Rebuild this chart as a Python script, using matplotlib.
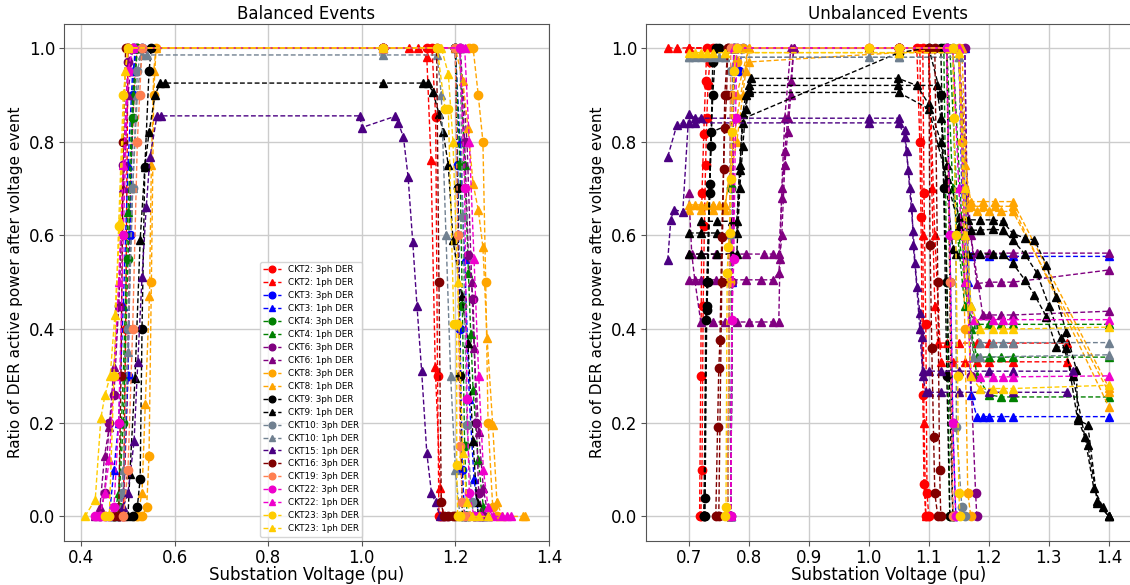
import matplotlib
matplotlib.use("Agg")
import matplotlib.pyplot as plt

# ---------------- series definitions ----------------
labels = ["CKT2: 3ph DER", "CKT2: 1ph DER", "CKT3: 3ph DER", "CKT3: 1ph DER",
          "CKT4: 3ph DER", "CKT4: 1ph DER", "CKT6: 3ph DER", "CKT6: 1ph DER",
          "CKT8: 3ph DER", "CKT8: 1ph DER", "CKT9: 3ph DER", "CKT9: 1ph DER",
          "CKT10: 3ph DER", "CKT10: 1ph DER", "CKT15: 1ph DER", "CKT16: 3ph DER",
          "CKT19: 3ph DER", "CKT22: 3ph DER", "CKT22: 1ph DER", "CKT23: 3ph DER",
          "CKT23: 1ph DER"]
colors = ["#ff0000", "#ff0000", "#0000ff", "#0000ff", "#008000", "#008000",
          "#800080", "#800080", "#ffa500", "#ffa500", "#000000", "#000000",
          "#708090", "#708090", "#4b0082", "#800000", "#ff7f50", "#ee00cc",
          "#ee00cc", "#ffcc00", "#ffcc00"]
markers = ["o", "^", "o", "^", "o", "^", "o", "^", "o", "^", "o", "^",
           "o", "^", "^", "o", "o", "o", "^", "o", "^"]

# ---------------- Balanced events: (voltage, ratio) ----------------
bal_ckt2_3ph = [(0.48, 0), (0.49, 0), (0.495, 0.4), (0.50, 1.0), (0.51, 1.0), (0.52, 1.0),
                (1.045, 1.0), (1.14, 1.0), (1.15, 1.0), (1.158, 0.853), (1.162, 0.3),
                (1.165, 0), (1.17, 0)]
bal_ckt2_1ph = [(0.49, 0), (0.50, 0.3), (0.505, 0.7), (0.515, 0.95), (0.52, 1.0), (0.53, 1.0),
                (1.045, 1.0), (1.10, 1.0), (1.12, 1.0), (1.139, 0.98), (1.148, 0.76),
                (1.157, 0.32), (1.168, 0.06), (1.175, 0)]
bal_ckt3_3ph = [(0.48, 0), (0.49, 0.05), (0.50, 0.3), (0.505, 0.6), (0.51, 0.9), (0.515, 1.0),
                (0.53, 1.0), (1.045, 1.0), (1.20, 1.0), (1.205, 0.75), (1.21, 0.4),
                (1.215, 0.1), (1.22, 0), (1.23, 0)]
bal_ckt3_1ph = [(0.46, 0), (0.47, 0.1), (0.48, 0.2), (0.49, 0.45), (0.50, 0.75), (0.51, 0.95),
                (0.52, 1.0), (1.045, 1.0), (1.20, 1.0), (1.21, 0.8), (1.22, 0.55),
                (1.23, 0.25), (1.24, 0.08), (1.25, 0), (1.26, 0)]
bal_ckt4_3ph = [(0.47, 0), (0.48, 0.02), (0.49, 0.2), (0.50, 0.55), (0.51, 0.85), (0.52, 1.0),
                (1.045, 1.0), (1.20, 1.0), (1.21, 0.75), (1.215, 0.45), (1.22, 0.15),
                (1.225, 0), (1.24, 0)]
bal_ckt4_1ph = [(0.47, 0), (0.48, 0.05), (0.49, 0.3), (0.50, 0.65), (0.51, 0.9), (0.52, 1.0),
                (1.045, 1.0), (1.21, 1.0), (1.22, 0.75), (1.228, 0.52), (1.233, 0.39),
                (1.238, 0.27), (1.249, 0.12), (1.26, 0.02), (1.27, 0)]
bal_ckt6_3ph = [(0.44, 0), (0.45, 0.05), (0.46, 0.2), (0.47, 0.26), (0.48, 0.45), (0.49, 0.75),
                (0.50, 0.97), (0.51, 1.0), (1.045, 1.0), (1.21, 1.0), (1.22, 0.8),
                (1.228, 0.557), (1.238, 0.465), (1.245, 0.2), (1.25, 0.05), (1.26, 0)]
bal_ckt6_1ph = [(0.43, 0), (0.44, 0.02), (0.45, 0.13), (0.46, 0.19), (0.47, 0.32), (0.48, 0.45),
                (0.49, 0.7), (0.50, 0.9), (0.51, 1.0), (1.045, 1.0), (1.21, 1.0),
                (1.225, 0.8), (1.235, 0.5), (1.24, 0.36), (1.25, 0.18), (1.26, 0.06), (1.27, 0)]
bal_ckt8_3ph = [(0.52, 0), (0.53, 0), (0.54, 0.02), (0.545, 0.13), (0.55, 0.5), (0.555, 0.9),
                (0.56, 1.0), (1.045, 1.0), (1.23, 1.0), (1.238, 1.0), (1.249, 0.90),
                (1.259, 0.80), (1.265, 0.5), (1.27, 0.2), (1.28, 0.02), (1.29, 0)]
bal_ckt8_1ph = [(0.52, 0), (0.53, 0.05), (0.537, 0.24), (0.546, 0.47), (0.55, 0.75),
                (0.555, 0.95), (0.56, 1.0), (1.045, 1.0), (1.20, 1.0), (1.216, 0.93),
                (1.227, 0.83), (1.238, 0.71), (1.249, 0.655), (1.259, 0.575), (1.268, 0.38),
                (1.28, 0.195), (1.289, 0.03), (1.30, 0), (1.345, 0), (1.35, 0)]
bal_ckt9_3ph = [(0.51, 0), (0.52, 0.02), (0.526, 0.08), (0.53, 0.4), (0.536, 0.745),
                (0.545, 0.95), (0.55, 1.0), (1.045, 1.0), (1.20, 1.0), (1.205, 0.7),
                (1.21, 0.3), (1.215, 0), (1.22, 0)]
bal_ckt9_1ph = [(0.50, 0), (0.504, 0.09), (0.515, 0.295), (0.526, 0.59), (0.536, 0.745),
                (0.545, 0.82), (0.558, 0.90), (0.569, 0.925), (0.58, 0.925), (1.045, 0.925),
                (1.131, 0.925), (1.141, 0.925), (1.152, 0.906), (1.165, 0.86), (1.174, 0.82),
                (1.185, 0.75), (1.195, 0.59), (1.214, 0.47), (1.227, 0.37), (1.238, 0.16),
                (1.246, 0.03), (1.25, 0)]
bal_ckt10_3ph = [(0.48, 0), (0.49, 0.05), (0.50, 0.4), (0.51, 0.7), (0.52, 0.95), (0.53, 1.0),
                 (1.045, 1.0), (1.21, 1.0), (1.216, 0.64), (1.225, 0.195), (1.235, 0.03),
                 (1.24, 0)]
bal_ckt10_1ph = [(0.48, 0), (0.49, 0.1), (0.50, 0.35), (0.51, 0.7), (0.52, 0.9), (0.53, 0.985),
                 (0.54, 0.985), (1.045, 0.985), (1.161, 0.985), (1.17, 0.9), (1.18, 0.6),
                 (1.19, 0.3), (1.20, 0.1), (1.21, 0)]
bal_ckt15_1ph = [(0.47, 0), (0.49, 0.02), (0.50, 0.05), (0.513, 0.16), (0.521, 0.33),
                 (0.53, 0.51), (0.539, 0.66), (0.547, 0.767), (0.562, 0.855), (0.57, 0.855),
                 (0.996, 0.855), (1.0, 0.83), (1.071, 0.854), (1.078, 0.84), (1.089, 0.81),
                 (1.099, 0.725), (1.109, 0.585), (1.118, 0.45), (1.128, 0.31), (1.139, 0.136),
                 (1.149, 0.05), (1.158, 0.03), (1.167, 0), (1.18, 0)]
bal_ckt16_3ph = [(0.47, 0), (0.48, 0), (0.485, 0.3), (0.49, 0.8), (0.495, 1.0), (0.50, 1.0),
                 (1.045, 1.0), (1.16, 1.0), (1.165, 0.5), (1.17, 0.03), (1.175, 0),
                 (1.185, 0), (1.195, 0), (1.20, 0)]
bal_ckt19_3ph = [(0.49, 0), (0.50, 0.1), (0.51, 0.4), (0.52, 0.8), (0.525, 0.9), (0.53, 1.0),
                 (1.045, 1.0), (1.20, 1.0), (1.205, 0.6), (1.21, 0.15), (1.215, 0.03),
                 (1.22, 0), (1.23, 0)]
bal_ckt22_3ph = [(0.43, 0), (0.44, 0), (0.45, 0), (0.46, 0), (0.47, 0.02), (0.48, 0.2),
                 (0.49, 0.6), (0.50, 0.95), (0.51, 1.0), (1.045, 1.0), (1.21, 1.0),
                 (1.22, 0.7), (1.225, 0.25), (1.23, 0.05), (1.24, 0), (1.25, 0)]
bal_ckt22_1ph = [(0.44, 0), (0.45, 0.05), (0.46, 0.12), (0.47, 0.3), (0.48, 0.5), (0.49, 0.75),
                 (0.50, 0.95), (0.51, 1.0), (1.045, 1.0), (1.22, 1.0), (1.23, 0.8),
                 (1.24, 0.55), (1.25, 0.3), (1.26, 0.1), (1.27, 0.02), (1.28, 0),
                 (1.30, 0), (1.31, 0), (1.32, 0)]
bal_ckt23_3ph = [(0.45, 0), (0.46, 0), (0.47, 0.3), (0.48, 0.62), (0.49, 0.9), (0.50, 1.0),
                 (1.045, 1.0), (1.161, 1.0), (1.178, 0.87), (1.185, 0.87), (1.197, 0.41),
                 (1.203, 0.41), (1.203, 0.11), (1.205, 0), (1.21, 0)]
bal_ckt23_1ph = [(0.408, 0), (0.43, 0.036), (0.442, 0.21), (0.451, 0.26), (0.462, 0.30),
                 (0.472, 0.43), (0.483, 0.63), (0.494, 0.95), (0.50, 1.0), (1.045, 1.0),
                 (1.17, 1.0), (1.185, 0.945), (1.195, 0.8), (1.205, 0.5), (1.216, 0.135),
                 (1.225, 0.03), (1.235, 0), (1.25, 0), (1.27, 0)]

balanced = [[bal_ckt2_3ph], [bal_ckt2_1ph], [bal_ckt3_3ph], [bal_ckt3_1ph],
            [bal_ckt4_3ph], [bal_ckt4_1ph], [bal_ckt6_3ph], [bal_ckt6_1ph],
            [bal_ckt8_3ph], [bal_ckt8_1ph], [bal_ckt9_3ph], [bal_ckt9_1ph],
            [bal_ckt10_3ph], [bal_ckt10_1ph], [bal_ckt15_1ph], [bal_ckt16_3ph],
            [bal_ckt19_3ph], [bal_ckt22_3ph], [bal_ckt22_1ph], [bal_ckt23_3ph],
            [bal_ckt23_1ph]]

# ---------------- Unbalanced events: lists of curves of (voltage, ratio) ----------------
unb_ckt2_3ph = [
    [(0.72, 0), (0.722, 0.1), (0.724, 0.45), (0.726, 0.62), (0.728, 0.75), (0.73, 0.85),
     (0.732, 0.92), (0.735, 0.97), (0.74, 1.0), (1.0, 1.0), (1.05, 1.0), (1.08, 1.0),
     (1.085, 0.80), (1.087, 0.64), (1.09, 0.26), (1.092, 0.07), (1.095, 0)],
    [(0.718, 0), (0.72, 0.3), (0.722, 0.69), (0.725, 0.817), (0.728, 0.93), (0.73, 1.0),
     (1.05, 1.0), (1.09, 1.0), (1.092, 0.69), (1.095, 0.41), (1.097, 0.05), (1.10, 0)]]
unb_ckt2_1ph = [
    [(0.665, 1.0), (0.68, 1.0), (0.70, 1.0), (1.0, 1.0), (1.05, 1.0), (1.10, 1.0),
     (1.105, 0.7), (1.11, 0.45), (1.115, 0.37), (1.13, 0.37), (1.15, 0.37), (1.18, 0.37),
     (1.20, 0.37), (1.24, 0.37), (1.33, 0.37)],
    [(0.70, 1.0), (1.05, 1.0), (1.10, 1.0), (1.11, 0.6), (1.12, 0.33), (1.14, 0.33),
     (1.16, 0.33), (1.18, 0.33), (1.20, 0.33), (1.24, 0.33), (1.33, 0.33)],
    [(0.70, 1.0), (1.05, 1.0), (1.085, 1.0), (1.09, 0.6), (1.092, 0.2), (1.095, 0)]]
unb_ckt3_3ph = [
    [(0.765, 0), (0.768, 0.5), (0.77, 0.9), (0.783, 0.95), (0.79, 1.0), (1.05, 1.0),
     (1.13, 1.0), (1.135, 0.6), (1.14, 0.2), (1.145, 0)]]
unb_ckt3_1ph = [
    [(0.77, 0), (0.772, 0.5), (0.775, 1.0), (1.05, 1.0), (1.15, 1.0), (1.155, 0.7),
     (1.16, 0.56), (1.17, 0.555), (1.20, 0.555), (1.24, 0.555), (1.40, 0.555)],
    [(0.77, 0), (0.775, 1.0), (1.05, 1.0), (1.16, 1.0), (1.165, 0.5), (1.17, 0.26),
     (1.18, 0.213), (1.19, 0.213), (1.20, 0.213), (1.22, 0.213), (1.24, 0.213),
     (1.40, 0.213)]]
unb_ckt4_3ph = [
    [(0.765, 0), (0.77, 0.7), (0.775, 1.0), (1.05, 1.0), (1.125, 1.0), (1.13, 0.5),
     (1.135, 0)]]
unb_ckt4_1ph = [
    [(0.77, 0), (0.775, 1.0), (1.05, 1.0), (1.13, 1.0), (1.14, 0.7), (1.16, 0.45),
     (1.18, 0.41), (1.20, 0.41), (1.22, 0.41), (1.24, 0.41), (1.40, 0.41)],
    [(0.77, 0), (0.775, 1.0), (1.05, 1.0), (1.135, 1.0), (1.15, 0.6), (1.17, 0.40),
     (1.18, 0.34), (1.20, 0.34), (1.22, 0.34), (1.24, 0.34), (1.40, 0.34)],
    [(0.775, 1.0), (1.05, 1.0), (1.14, 1.0), (1.16, 0.5), (1.18, 0.3), (1.20, 0.26),
     (1.22, 0.255), (1.24, 0.255), (1.40, 0.255)]]
unb_ckt6_3ph = [
    [(0.77, 0), (0.772, 0.5), (0.775, 1.0), (1.05, 1.0), (1.16, 1.0), (1.165, 0.6),
     (1.17, 0.3), (1.178, 0.05), (1.18, 0)]]
unb_ckt6_1ph = [
    [(0.70, 0.56), (0.72, 0.56), (0.745, 0.56), (0.77, 0.56), (0.795, 0.56), (0.825, 0.56),
     (0.84, 0.56), (0.85, 0.56), (0.855, 0.68), (0.86, 0.78), (0.865, 0.85), (0.87, 0.93),
     (0.875, 1.0), (1.0, 1.0), (1.05, 1.0), (1.15, 1.0), (1.16, 0.7), (1.165, 0.56),
     (1.18, 0.562), (1.20, 0.562), (1.24, 0.562), (1.40, 0.562)],
    [(0.70, 0.505), (0.72, 0.505), (0.745, 0.505), (0.77, 0.505), (0.795, 0.505),
     (0.82, 0.505), (0.84, 0.505), (0.85, 0.52), (0.855, 0.60), (0.86, 0.75), (0.865, 0.82),
     (0.87, 0.90), (0.875, 1.0), (1.05, 1.0), (1.15, 1.0), (1.16, 0.7), (1.18, 0.497),
     (1.20, 0.50), (1.22, 0.50), (1.24, 0.50), (1.40, 0.526)],
    [(0.70, 0.69), (0.705, 0.56), (0.71, 0.505), (0.72, 0.415), (0.74, 0.415), (0.76, 0.415),
     (0.78, 0.415), (0.80, 0.415), (0.82, 0.415), (0.84, 0.415), (0.85, 0.415),
     (0.852, 0.55), (0.855, 0.70), (0.86, 0.85), (0.87, 1.0), (1.05, 1.0), (1.15, 1.0),
     (1.17, 0.6), (1.19, 0.43), (1.20, 0.43), (1.22, 0.43), (1.24, 0.43), (1.40, 0.438)]]
unb_ckt8_3ph = [
    [(0.765, 0), (0.768, 0.5), (0.772, 0.9), (0.78, 0.97), (0.79, 1.0), (1.05, 1.0),
     (1.15, 1.0), (1.155, 0.8), (1.16, 0.4), (1.165, 0.05), (1.17, 0)]]
unb_ckt8_1ph = [
    [(0.70, 0.665), (0.71, 0.665), (0.72, 0.665), (0.73, 0.665), (0.74, 0.665),
     (0.75, 0.665), (0.76, 0.665), (0.78, 0.80), (0.79, 0.90), (0.795, 0.95), (0.80, 0.97),
     (1.05, 0.99), (1.15, 1.0), (1.16, 0.75), (1.17, 0.672), (1.19, 0.672), (1.21, 0.672),
     (1.24, 0.672), (1.40, 0.275)],
    [(0.70, 0.655), (0.72, 0.655), (0.74, 0.655), (0.76, 0.655), (0.78, 0.85), (0.80, 1.0),
     (1.05, 1.0), (1.15, 1.0), (1.16, 0.7), (1.17, 0.662), (1.19, 0.662), (1.21, 0.662),
     (1.24, 0.662), (1.40, 0.234)],
    [(0.78, 0.9), (0.80, 1.0), (1.05, 1.0), (1.155, 1.0), (1.165, 0.66), (1.18, 0.651),
     (1.20, 0.651), (1.22, 0.651), (1.24, 0.651), (1.40, 0.265)]]
unb_ckt9_3ph = [
    [(0.725, 0), (0.727, 0.04), (0.728, 0.42), (0.73, 0.44), (0.732, 0.5), (0.735, 0.71),
     (0.737, 0.79), (0.74, 0.9), (0.745, 1.0), (1.05, 1.0), (1.12, 1.0), (1.125, 0.7),
     (1.13, 0.3), (1.135, 0)],
    [(0.727, 0), (0.73, 0.45), (0.735, 0.69), (0.74, 0.97), (0.75, 1.0), (1.05, 1.0),
     (1.13, 1.0), (1.135, 0.5), (1.14, 0)],
    [(0.725, 0), (0.73, 0.5), (0.737, 0.82), (1.05, 0.99), (1.10, 1.0), (1.12, 0.9),
     (1.13, 0.5), (1.14, 0)]]
unb_ckt9_1ph = [
    [(0.70, 0.56), (0.72, 0.56), (0.747, 0.56), (0.772, 0.56), (0.78, 0.56), (0.785, 0.70),
     (0.79, 0.79), (0.795, 0.87), (0.80, 0.91), (0.803, 0.935), (1.049, 0.935),
     (1.08, 0.92), (1.10, 0.88), (1.12, 0.80), (1.13, 0.70), (1.14, 0.57), (1.146, 0.56),
     (1.165, 0.56), (1.185, 0.56), (1.207, 0.56), (1.223, 0.56), (1.24, 0.54),
     (1.26, 0.505), (1.276, 0.473), (1.296, 0.4265), (1.312, 0.3625), (1.329, 0.359),
     (1.348, 0.206), (1.365, 0.1955), (1.381, 0.0285), (1.40, 0)],
    [(0.70, 0.605), (0.72, 0.605), (0.747, 0.605), (0.772, 0.605), (0.78, 0.605),
     (0.785, 0.74), (0.79, 0.84), (0.80, 0.92), (1.049, 0.92), (1.113, 0.92), (1.12, 0.85),
     (1.13, 0.75), (1.15, 0.64), (1.165, 0.633), (1.185, 0.633), (1.207, 0.633),
     (1.223, 0.63), (1.24, 0.604), (1.26, 0.594), (1.276, 0.59), (1.296, 0.537),
     (1.312, 0.469), (1.329, 0.3945), (1.346, 0.3127), (1.348, 0.21), (1.365, 0.153),
     (1.381, 0.032), (1.40, 0)],
    [(0.72, 0.63), (0.747, 0.63), (0.772, 0.63), (0.78, 0.63), (0.785, 0.75), (0.79, 0.86),
     (0.795, 0.90), (0.80, 0.905), (1.05, 0.905), (1.10, 0.87), (1.13, 0.72), (1.15, 0.62),
     (1.17, 0.611), (1.185, 0.611), (1.207, 0.613), (1.223, 0.611), (1.24, 0.59),
     (1.26, 0.56), (1.28, 0.52), (1.30, 0.45), (1.32, 0.38), (1.34, 0.30), (1.36, 0.17),
     (1.375, 0.06), (1.39, 0.02), (1.40, 0)]]
unb_ckt10_3ph = [
    [(0.765, 0), (0.768, 0.6), (0.77, 0.95), (0.78, 1.0), (1.05, 1.0), (1.14, 1.0),
     (1.145, 0.6), (1.146, 0.19), (1.155, 0.02), (1.16, 0)]]
unb_ckt10_1ph = [
    [(0.70, 0.98), (0.71, 0.98), (0.72, 0.98), (0.73, 0.98), (0.74, 0.98), (0.75, 0.98),
     (0.76, 0.98), (1.0, 0.98), (1.05, 0.98), (1.15, 0.98), (1.16, 0.7), (1.17, 0.45),
     (1.185, 0.371), (1.207, 0.371), (1.223, 0.371), (1.24, 0.371), (1.40, 0.371)],
    [(0.70, 0.98), (0.76, 0.98), (1.05, 0.98), (1.15, 0.98), (1.16, 0.6), (1.174, 0.34),
     (1.185, 0.34), (1.40, 0.345)]]
unb_ckt15_1ph = [
    [(0.665, 0.547), (0.67, 0.633), (0.675, 0.655), (0.69, 0.65), (0.70, 0.86),
     (0.71, 0.85), (0.72, 0.85), (1.0, 0.85), (1.05, 0.85), (1.06, 0.824), (1.063, 0.78),
     (1.068, 0.70), (1.074, 0.61), (1.077, 0.54), (1.085, 0.434), (1.088, 0.384),
     (1.09, 0.31), (1.10, 0.31), (1.12, 0.31), (1.15, 0.31), (1.20, 0.31), (1.24, 0.31),
     (1.34, 0.31)],
    [(0.665, 0.768), (0.68, 0.835), (0.69, 0.84), (0.70, 0.84), (0.71, 0.84), (1.0, 0.84),
     (1.05, 0.84), (1.06, 0.81), (1.066, 0.74), (1.072, 0.66), (1.074, 0.58),
     (1.08, 0.49), (1.085, 0.40), (1.09, 0.30), (1.095, 0.265), (1.10, 0.265),
     (1.12, 0.265), (1.15, 0.265), (1.20, 0.265), (1.24, 0.265), (1.33, 0.265)]]
unb_ckt16_3ph = [
    [(0.745, 0), (0.748, 0.19), (0.75, 0.316), (0.752, 0.377), (0.755, 0.597),
     (0.758, 0.742), (0.76, 0.83), (0.763, 0.9), (0.765, 1.0), (1.05, 1.0), (1.10, 1.0),
     (1.102, 0.58), (1.105, 0.36), (1.108, 0.17), (1.11, 0.05), (1.115, 0)],
    [(0.75, 0), (0.755, 0.5), (0.76, 0.9), (0.765, 1.0), (1.05, 1.0), (1.11, 1.0),
     (1.115, 0.5), (1.118, 0.1), (1.12, 0)]]
unb_ckt19_3ph = [
    [(0.765, 0), (0.77, 1.0), (1.05, 1.0), (1.13, 1.0), (1.135, 0.5), (1.14, 0)]]
unb_ckt22_3ph = [
    [(0.77, 0), (0.772, 0.42), (0.775, 0.55), (0.778, 0.85), (0.78, 1.0), (1.05, 1.0),
     (1.13, 1.0), (1.135, 0.6), (1.14, 0.2), (1.145, 0)]]
unb_ckt22_1ph = [
    [(0.77, 0), (0.775, 1.0), (1.05, 1.0), (1.14, 1.0), (1.15, 0.7), (1.16, 0.5),
     (1.175, 0.42), (1.207, 0.42), (1.223, 0.42), (1.24, 0.42), (1.40, 0.42)],
    [(0.775, 1.0), (1.05, 1.0), (1.15, 1.0), (1.16, 0.6), (1.17, 0.30), (1.185, 0.298),
     (1.207, 0.298), (1.223, 0.298), (1.24, 0.298), (1.40, 0.30)]]
unb_ckt23_3ph = [
    [(0.76, 0), (0.762, 0.02), (0.764, 0.52), (0.766, 0.575), (0.768, 0.604), (0.77, 0.72),
     (0.772, 0.82), (0.775, 0.95), (0.78, 1.0), (1.0, 1.0), (1.05, 1.0), (1.14, 1.0),
     (1.142, 0.85), (1.145, 0.6), (1.148, 0.3), (1.15, 0.05), (1.152, 0)]]
unb_ckt23_1ph = [
    [(0.70, 0.99), (0.71, 0.99), (0.72, 0.99), (0.73, 0.99), (0.74, 0.99), (0.76, 0.99),
     (1.05, 0.99), (1.15, 0.99), (1.16, 0.7), (1.17, 0.45), (1.185, 0.40), (1.207, 0.40),
     (1.223, 0.40), (1.24, 0.40), (1.40, 0.404)],
    [(0.76, 0.99), (1.05, 0.99), (1.15, 0.99), (1.16, 0.6), (1.17, 0.30), (1.185, 0.273),
     (1.207, 0.273), (1.223, 0.273), (1.24, 0.273), (1.40, 0.28)]]

unbalanced = [unb_ckt2_3ph, unb_ckt2_1ph, unb_ckt3_3ph, unb_ckt3_1ph, unb_ckt4_3ph,
              unb_ckt4_1ph, unb_ckt6_3ph, unb_ckt6_1ph, unb_ckt8_3ph, unb_ckt8_1ph,
              unb_ckt9_3ph, unb_ckt9_1ph, unb_ckt10_3ph, unb_ckt10_1ph, unb_ckt15_1ph,
              unb_ckt16_3ph, unb_ckt19_3ph, unb_ckt22_3ph, unb_ckt22_1ph, unb_ckt23_3ph,
              unb_ckt23_1ph]

titles = ["Balanced Events", "Unbalanced Events"]
xlabel = "Substation Voltage (pu)"
ylabel = "Ratio of DER active power after voltage event"

# ---------------- drawing ----------------
fig = plt.figure(figsize=(11.3, 5.85), dpi=100)
ax1 = fig.add_axes([0.0564, 0.0752, 0.4293, 0.8833])
ax2 = fig.add_axes([0.5713, 0.0752, 0.4296, 0.8833])


def draw(ax, groups, with_label):
    for i, curves in enumerate(groups):
        for j, curve in enumerate(curves):
            xs = [p[0] for p in curve]
            ys = [p[1] for p in curve]
            ax.plot(xs, ys, linestyle="--", marker=markers[i], color=colors[i],
                    markersize=6, linewidth=1.0, dashes=(3.5, 1.8),
                    label=labels[i] if (with_label and j == 0) else None)


draw(ax1, balanced, True)
draw(ax2, unbalanced, False)

for ax, title in zip((ax1, ax2), titles):
    ax.set_title(title, fontsize=12, pad=4)
    ax.set_xlabel(xlabel, fontsize=12, labelpad=-1)
    ax.set_ylabel(ylabel, fontsize=11)
    ax.grid(True, color="#cccccc", linewidth=1.0)
    ax.set_axisbelow(True)
    ax.tick_params(labelsize=12, color="#555555", pad=2.5)
    for s in ax.spines.values():
        s.set_color("#555555")
    ax.set_ylim(-0.0525, 1.0505)
    ax.set_yticks([0.0, 0.2, 0.4, 0.6, 0.8, 1.0])

ax1.set_xlim(0.3626, 1.40)
ax1.set_xticks([0.4, 0.6, 0.8, 1.0, 1.2, 1.4])
ax2.set_xlim(0.628, 1.437)
ax2.set_xticks([0.7, 0.8, 0.9, 1.0, 1.1, 1.2, 1.3, 1.4])

ax1.legend(loc="lower center", bbox_to_anchor=(0.51, 0.0), fontsize=6.3,
           labelspacing=0.45, handlelength=2.0, markerscale=0.8, borderpad=0.4,
           framealpha=0.8, edgecolor="#cccccc")

fig.savefig("out.png", dpi=100)
